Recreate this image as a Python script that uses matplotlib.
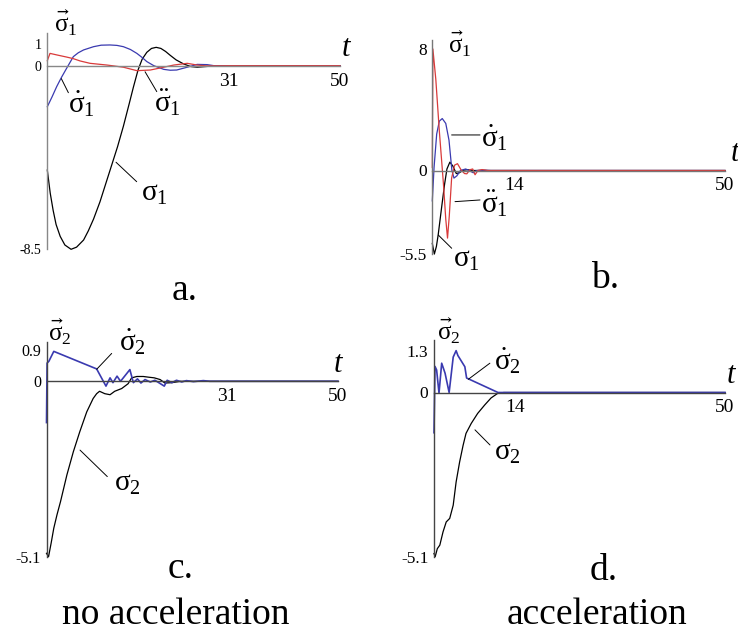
import matplotlib
matplotlib.use("Agg")
import matplotlib.pyplot as plt

plt.rcParams['font.family'] = ['Liberation Serif', 'DejaVu Serif']
plt.rcParams['mathtext.fontset'] = 'dejavusans'
plt.rcParams['mathtext.default'] = 'regular'

W, H = 738, 634

# ---- panel a : sigma1, no acceleration ----
a_t_s = [0, 0.5, 1, 1.5, 2.2, 3, 4.06, 5, 6.2, 7, 7.9, 9, 10, 11, 12, 13, 14, 14.7, 15.5, 16.2,
         17, 17.8, 18.6, 19.4, 20.2, 21, 22, 23.3, 24.5, 25.6, 27, 28.5, 31, 50]
a_s = [-4.83, -5.9, -6.7, -7.35, -7.9, -8.3, -8.5, -8.4, -8.07, -7.65, -7.1, -6.3, -5.45, -4.6,
       -3.75, -2.8, -1.75, -1.0, -0.2, 0.3, 0.62, 0.8, 0.85, 0.8, 0.66, 0.48, 0.27, 0.08, -0.04,
       -0.07, -0.04, -0.01, 0, 0]
a_t_ds = [0, 0.8, 1.6, 2.4, 3.3, 4.45, 5.3, 6.2, 7.9, 9.2, 10.7, 11.9, 13, 14.2, 15.3, 16.2, 17,
          18.2, 19.9, 21, 22.1, 23.9, 25.6, 27.3, 28.5, 31, 50]
a_ds = [-1.9, -1.45, -0.97, -0.55, -0.12, 0.42, 0.6, 0.73, 0.88, 0.95, 0.96, 0.94, 0.88, 0.75, 0.57,
        0.38, 0.19, 0, -0.17, -0.21, -0.2, -0.07, 0.06, 0.05, 0, 0, 0]
a_t_dds = [0, 0.46, 1.6, 3.3, 4.4, 5.6, 7.3, 10.2, 13, 15.3, 17.6, 19.9, 21.6, 23.9, 25.6, 27.3, 31, 50]
a_dds = [0.23, 0.57, 0.5, 0.4, 0.33, 0.22, 0.11, 0.03, -0.07, -0.23, -0.2, -0.07, 0.03, 0.11, 0.03,
         -0.01, 0, 0]

# ---- panel b : sigma1, acceleration ----
b_t_s = [0, 0.35, 0.7, 1.0, 1.6, 2.1, 2.5, 3.0, 3.5, 4.1, 4.6, 5.3, 6.0, 7.0, 50]
b_s = [-4.8, -5.5, -5.0, -4.25, -2.4, -0.9, 0.1, 0.55, 0.3, -0.2, -0.15, 0.02, 0.05, 0, 0]
b_t_ds = [0, 0.3, 0.75, 1.2, 1.7, 2.3, 2.85, 3.35, 3.7, 4.2, 4.8, 5.7, 6.3, 7.0, 7.6, 9.0, 10, 50]
b_ds = [-2.0, 0.2, 2.4, 3.25, 3.42, 3.1, 2.0, 0, -0.5, -0.35, 0.0, 0.1, 0.0, -0.15, 0.0, 0.02, 0, 0]
b_t_dds = [0, 0.1, 0.6, 1.2, 1.9, 2.3, 2.6, 2.9, 3.3, 3.8, 4.3, 4.9, 5.5, 5.9, 6.4, 6.9, 7.3, 7.8,
           8.5, 9.5, 50]
b_dds = [0.2, 8.0, 6.0, 2.6, -0.87, -3.2, -4.45, -3.0, -0.5, 0.35, 0.45, 0.05, -0.2, -0.22, 0.05,
         0.1, -0.28, 0, 0.06, 0, 0]

# ---- panel c : sigma2, no acceleration ----
c_t_s = [0, 0.35, 0.8, 1.25, 1.8, 2.4, 3.5, 4.6, 5.7, 6.9, 8.0, 8.6, 9.1, 10.0, 10.9, 11.7, 12.9,
         14.0, 14.6, 15.5, 16.6, 17.5, 18.5, 19.5, 20.3, 21.5, 23, 50]
c_s = [-5.0, -5.1, -4.7, -4.27, -3.88, -3.5, -2.72, -2.05, -1.47, -0.89, -0.5, -0.36, -0.29, -0.36,
       -0.39, -0.29, -0.21, -0.07, 0.1, 0.14, 0.14, 0.12, 0.1, 0.05, -0.05, -0.04, 0, 0]
c_t_ds = [0, 0.1, 0.4, 1.25, 8.6, 10.2, 10.9, 11.4, 12.1, 12.7, 14.3, 14.9, 15.6, 16.2, 16.9, 17.8,
          18.6, 20.2, 20.7, 21.5, 22.3, 23.2, 24, 25.2, 26.9, 28, 50]
c_ds = [-1.2, 0.53, 0.58, 0.87, 0.36, -0.14, 0.1, -0.04, 0.15, 0.0, 0.34, -0.04, 0.07, -0.05, 0.05,
        -0.02, 0.03, -0.14, 0.03, -0.04, 0.03, -0.02, 0.02, -0.01, 0.02, 0, 0]

# ---- panel d : sigma2, acceleration ----
d_t_s = [0, 0.2, 0.57, 1.0, 1.55, 2.1, 2.7, 3.3, 3.8, 4.4, 5.0, 5.5, 6.4, 7.5, 8.7, 9.8, 11, 12, 50]
d_s = [-5.0, -5.1, -4.85, -4.74, -4.33, -4.02, -3.91, -3.5, -2.78, -2.16, -1.64, -1.27, -0.96,
       -0.65, -0.39, -0.17, -0.02, 0, 0]
d_t_ds = [0, 0.17, 0.45, 0.86, 1.32, 1.9, 2.6, 3.3, 3.6, 3.8, 4.1, 5.3, 5.6, 11, 50]
d_ds = [-1.25, 0.81, 0.7, -0.02, 0.91, 0.6, 0.0, 1.1, 1.22, 1.3, 1.15, 0.8, 0.45, 0, 0]

BLUE = '#3a3ab0'
RED = '#d93a3a'


def panel(x0, x50, y0, s, ymin, ymax, yticks, ylabels, xticks, yfs, axcolor):
    top = y0 - ymax * s
    bot = y0 - ymin * s
    ax = fig.add_axes([x0 / W, 1 - bot / H, (x50 - x0) / W, (bot - top) / H])
    ax.set_xlim(0, 50)
    ax.set_ylim(ymin, ymax)
    ax.patch.set_alpha(0)
    for k in ['top', 'right']:
        ax.spines[k].set_visible(False)
    ax.spines['bottom'].set_position(('data', 0))
    for k in ['left', 'bottom']:
        ax.spines[k].set_color(axcolor)
        ax.spines[k].set_linewidth(1.0)
    ax.set_yticks(yticks, ylabels)
    ax.set_xticks(xticks, [str(v) for v in xticks])
    ax.tick_params(axis='y', length=0, pad=4, labelsize=yfs)
    ax.tick_params(axis='x', length=0, pad=5, labelsize=14)
    return ax


fig = plt.figure(figsize=(W / 100, H / 100), dpi=100)

lw = 0.9
ax_a = panel(47.3, 340, 65.7, 21.6, -8.5, 1.51, [1, 0, -8.5], ['1', '0', '-8.5'], [31, 50], 10, '#888888')
ax_a.plot(a_t_s, a_s, color='black', lw=lw, clip_on=False)
ax_a.plot(a_t_ds, a_ds, color=BLUE, lw=lw, clip_on=False)
ax_a.plot(a_t_dds, a_dds, color=RED, lw=lw, clip_on=False)

ax_b = panel(432.3, 725, 170.5, 15.19, -5.5, 8.6, [8, 0, -5.5], ['8', '0', '-5.5'], [14, 50], 12.5, '#777777')
ax_b.plot(b_t_s, b_s, color='black', lw=lw, clip_on=False)
ax_b.plot(b_t_ds, b_ds, color=BLUE, lw=lw, clip_on=False)
ax_b.plot(b_t_dds, b_dds, color=RED, lw=lw, clip_on=False)

ax_c = panel(46.5, 338, 381.3, 34.4, -5.1, 1.15, [0.9, 0, -5.1], ['0.9', '0', '-5.1'], [31, 50], 11.5, '#444444')
ax_c.plot(c_t_s, c_s, color='black', lw=lw, clip_on=False)
ax_c.plot(c_t_ds, c_ds, color=BLUE, lw=1.2, clip_on=False)

ax_d = panel(434, 725, 392.5, 32.2, -5.1, 1.63, [1.3, 0, -5.1], ['1.3', '0', '-5.1'], [14, 50], 12.5, '#444444')
ax_d.plot(d_t_s, d_s, color='black', lw=lw, clip_on=False)
ax_d.plot(d_t_ds, d_ds, color=BLUE, lw=1.2, clip_on=False)


def lead(ax, p, q):
    ax.annotate('', xy=p, xytext=q,
                arrowprops=dict(arrowstyle='-', color='black', lw=0.7, shrinkA=0, shrinkB=0))


# axis names
for ax, xy, txt in [(ax_a, (1.2, 1.98), r'$\vec{\sigma}_1$'),
                    (ax_b, (2.6, 8.33), r'$\vec{\sigma}_1$'),
                    (ax_c, (0.2, 1.43), r'$\vec{\sigma}_2$'),
                    (ax_d, (0.6, 1.91), r'$\vec{\sigma}_2$')]:
    ax.text(xy[0], xy[1], txt, fontsize=18, ha='left', va='center')

for ax, dx in [(ax_a, 2), (ax_b, 6), (ax_c, -4), (ax_d, 2)]:
    ax.annotate('t', xy=(50, 0), xytext=(dx * 0.72, 2), textcoords='offset points',
                fontsize=22, style='italic', ha='left', va='bottom', annotation_clip=False)

# curve labels with leader lines
lfs = 21
ax_a.text(5.76, -1.77, r'$\dot{\sigma}_1$', fontsize=lfs, ha='center', va='center')
lead(ax_a, (2.4, -0.6), (3.6, -1.25))
ax_a.text(20.45, -1.70, r'$\ddot{\sigma}_1$', fontsize=lfs, ha='center', va='center')
lead(ax_a, (16.7, -0.28), (18.7, -1.2))
ax_a.text(18.23, -5.94, r'$\sigma_1$', fontsize=lfs, ha='center', va='center')
lead(ax_a, (11.74, -4.47), (15.27, -5.37))

ax_b.text(10.7, 2.17, r'$\dot{\sigma}_1$', fontsize=lfs, ha='center', va='center')
lead(ax_b, (3.3, 2.34), (8.15, 2.34))
ax_b.text(10.7, -2.2, r'$\ddot{\sigma}_1$', fontsize=lfs, ha='center', va='center')
lead(ax_b, (3.88, -2.05), (8.15, -1.94))
ax_b.text(5.75, -5.89, r'$\sigma_1$', fontsize=lfs, ha='center', va='center')
lead(ax_b, (1.03, -4.25), (3.31, -5.12))

ax_c.text(14.75, 1.16, r'$\dot{\sigma}_2$', fontsize=lfs, ha='center', va='center')
lead(ax_c, (8.61, 0.35), (11.18, 0.81))
ax_c.text(13.9, -2.99, r'$\sigma_2$', fontsize=lfs, ha='center', va='center')
lead(ax_c, (5.75, -2.0), (10.43, -2.77))

ax_d.text(12.7, 0.99, r'$\dot{\sigma}_2$', fontsize=lfs, ha='center', va='center')
lead(ax_d, (5.9, 0.41), (9.6, 0.91))
ax_d.text(12.7, -1.88, r'$\sigma_2$', fontsize=lfs, ha='center', va='center')
lead(ax_d, (7.04, -1.16), (9.62, -1.63))

# panel letters and captions
for x, y, txt, fs in [(185, 300, 'a.', 27), (605, 288, 'b.', 27), (181, 578, 'c.', 27),
                      (604, 580, 'd.', 27), (176, 624, 'no acceleration', 27),
                      (597, 624, 'acceleration', 27)]:
    fig.text(x / W, 1 - y / H, txt, fontsize=fs, ha='center', va='baseline')

fig.savefig('out.png', dpi=100)
